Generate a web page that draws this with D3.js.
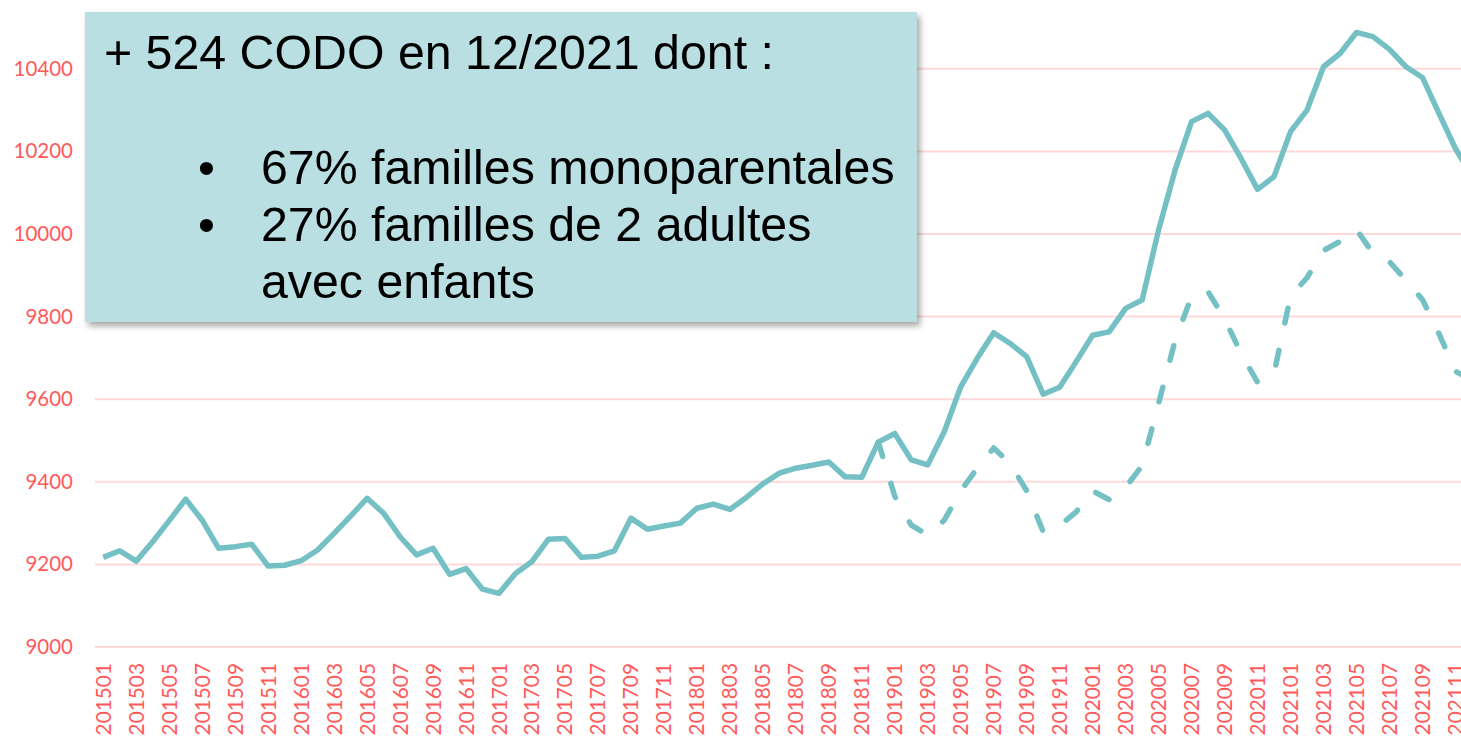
<!DOCTYPE html>
<html>
<head>
<meta charset="utf-8">
<script src="https://cdn.jsdelivr.net/npm/d3@7"></script>
<style>
  html, body { margin: 0; padding: 0; background: #fff; overflow: hidden; }
  svg { display: block; }
</style>
</head>
<body>
<div id="chart"></div>
<script>
var months = [
  "201501","201502","201503","201504","201505","201506","201507","201508","201509","201510","201511","201512",
  "201601","201602","201603","201604","201605","201606","201607","201608","201609","201610","201611","201612",
  "201701","201702","201703","201704","201705","201706","201707","201708","201709","201710","201711","201712",
  "201801","201802","201803","201804","201805","201806","201807","201808","201809","201810","201811","201812",
  "201901","201902","201903","201904","201905","201906","201907","201908","201909","201910","201911","201912",
  "202001","202002","202003","202004","202005","202006","202007","202008","202009","202010","202011","202012",
  "202101","202102","202103","202104","202105","202106","202107","202108","202109","202110","202111","202112"
];

var codo = [
  9217, 9233, 9208, 9255, 9306, 9358, 9307, 9239, 9243, 9249, 9196, 9198,
  9209, 9235, 9275, 9317, 9360, 9324, 9267, 9223, 9239, 9176, 9190, 9140,
  9130, 9178, 9207, 9261, 9263, 9217, 9220, 9233, 9312, 9285, 9293, 9300,
  9336, 9346, 9333, 9362, 9395, 9421, 9433, 9440, 9448, 9412, 9411, 9496,
  9517, 9453, 9441, 9521, 9630, 9699, 9761, 9735, 9703, 9612, 9629, 9691,
  9755, 9763, 9820, 9840, 10010, 10155, 10272, 10292, 10252, 10183, 10108, 10139,
  10248, 10300, 10405, 10437, 10488, 10478, 10447, 10405, 10379, 10292, 10207, 10140
];

// second series only from 201812
var codoDashed = [
  null, null, null, null, null, null, null, null, null, null, null, null,
  null, null, null, null, null, null, null, null, null, null, null, null,
  null, null, null, null, null, null, null, null, null, null, null, null,
  null, null, null, null, null, null, null, null, null, null, null, 9496,
  9365, 9295, 9271, 9307, 9378, 9433, 9482, 9444, 9378, 9279, 9294, 9327,
  9378, 9357, 9387, 9439, 9590, 9742, 9849, 9860, 9795, 9711, 9641, 9663,
  9849, 9894, 9960, 9982, 10011, 9953, 9933, 9888, 9841, 9759, 9668, 9645
];

var yTicks = [9000, 9200, 9400, 9600, 9800, 10000, 10200, 10400];

var boxTitle = "+ 524 CODO en 12/2021 dont :";
var boxBullets = [
  ["67% familles monoparentales"],
  ["27% familles de 2 adultes", "avec enfants"]
];

var width = 1461, height = 737;
var lineColor = "#74C0C5",
  gridColor = "#FFD9D9",
  tickColor = "#FF5A5A";

var svg = d3.select("#chart").append("svg")
  .attr("width", width)
  .attr("height", height);

var x = d3.scaleBand()
  .domain(months)
  .range([95, 95 + months.length * 16.49])
  .padding(0);

var y = d3.scaleLinear()
  .domain([9000, 10400])
  .range([647, 68.8]);

function cx(m) { return x(m) + x.bandwidth() / 2; }

// gridlines
svg.append("g").selectAll("line")
  .data(yTicks)
  .enter().append("line")
  .attr("x1", 95).attr("x2", width)
  .attr("y1", function(d) { return y(d); })
  .attr("y2", function(d) { return y(d); })
  .attr("stroke", gridColor)
  .attr("stroke-width", 2);

// y labels
var yAxis = svg.append("g")
  .attr("transform", "translate(73,0)")
  .call(d3.axisLeft(y).tickValues(yTicks).tickSize(0).tickPadding(0).tickFormat(d3.format("d")));
yAxis.select(".domain").remove();
yAxis.selectAll("text")
  .attr("fill", tickColor)
  .style("font-family", "Lato, 'Open Sans', sans-serif")
  .style("font-size", "20.5px");

// x labels, every other month
var xAxis = svg.append("g")
  .attr("transform", "translate(0,663)")
  .call(d3.axisBottom(x)
    .tickValues(months.filter(function(d, i) { return i % 2 === 0; }))
    .tickSize(0).tickPadding(0));
xAxis.select(".domain").remove();
xAxis.selectAll("text")
  .attr("fill", tickColor)
  .style("font-family", "Lato, 'Open Sans', sans-serif")
  .style("font-size", "20.8px")
  .attr("transform", "rotate(-90)")
  .attr("text-anchor", "end")
  .attr("x", 0)
  .attr("dx", 0)
  .attr("y", 0)
  .attr("dy", "0.36em");

var rows = months.map(function(m, i) {
  return {m: m, a: codo[i], b: codoDashed[i]};
});

var lineA = d3.line()
  .x(function(d) { return cx(d.m); })
  .y(function(d) { return y(d.a); });

var lineB = d3.line()
  .defined(function(d) { return d.b != null; })
  .x(function(d) { return cx(d.m); })
  .y(function(d) { return y(d.b); });

svg.append("path")
  .datum(rows)
  .attr("d", lineB)
  .attr("fill", "none")
  .attr("stroke", lineColor)
  .attr("stroke-width", 5.5)
  .attr("stroke-linecap", "round")
  .attr("stroke-linejoin", "round")
  .attr("stroke-dasharray", "15,28");

svg.append("path")
  .datum(rows)
  .attr("d", lineA)
  .attr("fill", "none")
  .attr("stroke", lineColor)
  .attr("stroke-width", 5.5)
  .attr("stroke-linejoin", "round");

// annotation box
var defs = svg.append("defs");
var f = defs.append("filter").attr("id", "shadow")
  .attr("x", "-5%").attr("y", "-5%").attr("width", "115%").attr("height", "120%");
f.append("feDropShadow")
  .attr("dx", 3).attr("dy", 4).attr("stdDeviation", 3)
  .attr("flood-color", "#000").attr("flood-opacity", 0.35);

var box = svg.append("g");
box.append("rect")
  .attr("x", 85).attr("y", 12)
  .attr("width", 832).attr("height", 310)
  .attr("fill", "#B9DFE2")
  .attr("filter", "url(#shadow)");

var boxFont = "'Liberation Sans', Arial, sans-serif";
box.append("text")
  .attr("x", 104).attr("y", 69)
  .style("font-family", boxFont)
  .style("font-size", "48.3px")
  .attr("fill", "#000")
  .text(boxTitle);

var lineY = 184;
boxBullets.forEach(function(b) {
  box.append("text")
    .attr("x", 198).attr("y", lineY)
    .style("font-family", boxFont)
    .style("font-size", "48.3px")
    .attr("fill", "#000")
    .text("\u2022");
  b.forEach(function(t) {
    box.append("text")
      .attr("x", 261).attr("y", lineY)
      .style("font-family", boxFont)
      .style("font-size", "48.3px")
      .attr("fill", "#000")
      .text(t);
    lineY += 57;
  });
});
</script>
</body>
</html>
